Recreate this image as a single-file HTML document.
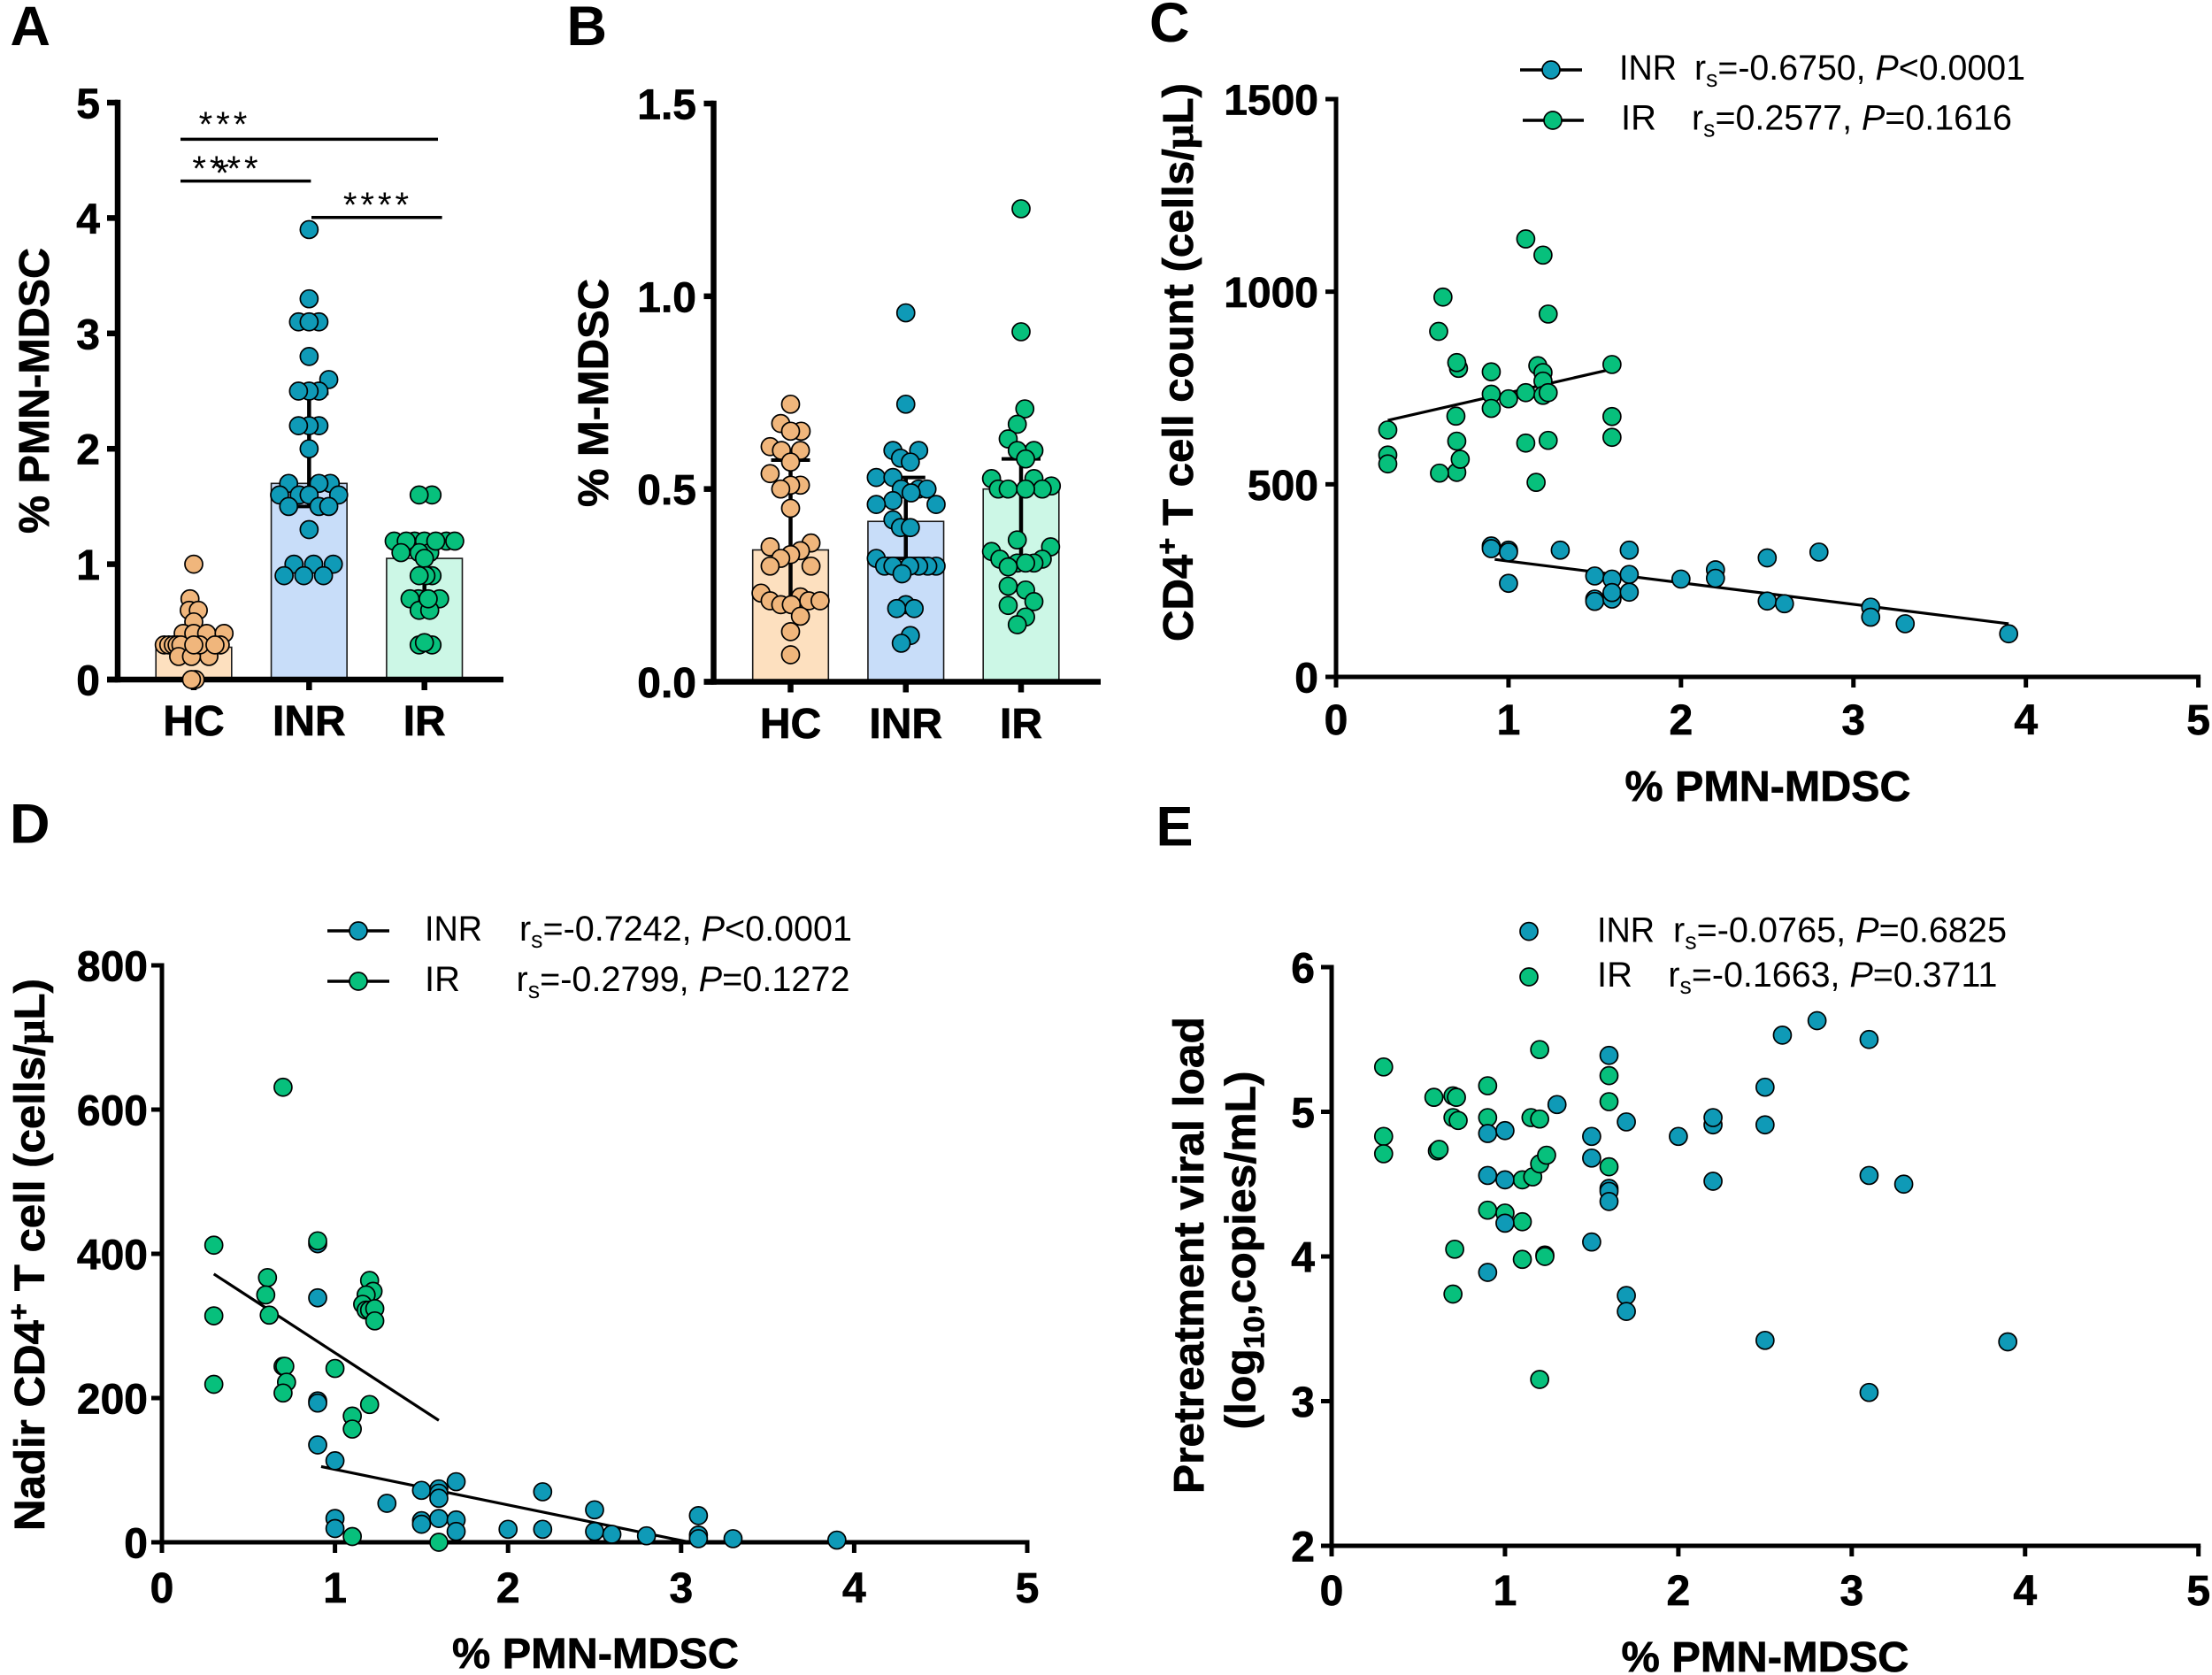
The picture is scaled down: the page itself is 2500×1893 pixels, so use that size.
<!DOCTYPE html>
<html lang="en">
<head>
<meta charset="utf-8">
<title>MDSC figure panels A-E</title>
<style>
html,body{margin:0;padding:0;background:#fff;}
svg{display:block;}
text{font-family:"Liberation Sans",sans-serif;fill:#000;}
.tick{font-weight:700;font-size:48px;stroke:#000;stroke-width:.7px;}
.title{font-weight:700;font-size:48px;stroke:#000;stroke-width:.7px;}
.panel{font-weight:700;font-size:63px;}
.leg{font-size:40px;}
.star{font-size:40px;}
</style>
</head>
<body>
<svg id="fig" xmlns="http://www.w3.org/2000/svg" width="2500" height="1893" viewBox="0 0 2500 1893">
<rect x="0" y="0" width="2500" height="1893" fill="#fff"/>

<g id="panel-a">
  <text class="panel" x="11.5" y="51">A</text>
  <text class="title" transform="translate(55,441.5) rotate(-90)" text-anchor="middle" textLength="323" lengthAdjust="spacingAndGlyphs">% PMN-MDSC</text>
</g>
<g id="panel-b">
  <text class="panel" x="640.5" y="51">B</text>
  <text class="title" transform="translate(687,444) rotate(-90)" text-anchor="middle" textLength="258" lengthAdjust="spacingAndGlyphs">% M-MDSC</text>
</g>
<g id="panel-c">
  <text class="panel" x="1299" y="47">C</text>
  <text class="title" transform="translate(1348,409.5) rotate(-90)" text-anchor="middle" textLength="631" lengthAdjust="spacingAndGlyphs">CD4<tspan font-size="32" dy="-18">+</tspan><tspan dy="18"> T cell count (cells/</tspan><tspan font-family="Liberation Serif">μ</tspan>L)</text>
  <text class="title" x="1998" y="905" text-anchor="middle" textLength="323" lengthAdjust="spacingAndGlyphs">% PMN-MDSC</text>
  <g>
    <text class="leg" x="1830" y="90" textLength="65" lengthAdjust="spacingAndGlyphs">INR</text>
    <text class="leg" x="1915" y="90" textLength="374" lengthAdjust="spacingAndGlyphs">r<tspan font-size="27" dy="8">s</tspan><tspan dy="-8">=-0.6750, </tspan><tspan font-style="italic">P</tspan>&lt;0.0001</text>
    <text class="leg" x="1832" y="146.7" textLength="40" lengthAdjust="spacingAndGlyphs">IR</text>
    <text class="leg" x="1912" y="146.7" textLength="362" lengthAdjust="spacingAndGlyphs">r<tspan font-size="27" dy="8">s</tspan><tspan dy="-8">=0.2577, </tspan><tspan font-style="italic">P</tspan>=0.1616</text>
  </g>
</g>
<g id="panel-d">
  <text class="panel" x="11" y="952.6">D</text>
  <text class="title" transform="translate(50,1418) rotate(-90)" text-anchor="middle" textLength="624" lengthAdjust="spacingAndGlyphs">Nadir CD4<tspan font-size="32" dy="-18">+</tspan><tspan dy="18"> T cell (cells/</tspan><tspan font-family="Liberation Serif">μ</tspan>L)</text>
  <text class="title" x="673" y="1885" text-anchor="middle" textLength="324" lengthAdjust="spacingAndGlyphs">% PMN-MDSC</text>
  <g>
    <text class="leg" x="480" y="1063" textLength="65" lengthAdjust="spacingAndGlyphs">INR</text>
    <text class="leg" x="587" y="1063" textLength="376" lengthAdjust="spacingAndGlyphs">r<tspan font-size="27" dy="8">s</tspan><tspan dy="-8">=-0.7242, </tspan><tspan font-style="italic">P</tspan>&lt;0.0001</text>
    <text class="leg" x="480" y="1120" textLength="40" lengthAdjust="spacingAndGlyphs">IR</text>
    <text class="leg" x="583.5" y="1120" textLength="377" lengthAdjust="spacingAndGlyphs">r<tspan font-size="27" dy="8">s</tspan><tspan dy="-8">=-0.2799, </tspan><tspan font-style="italic">P</tspan>=0.1272</text>
  </g>
</g>
<g id="panel-e">
  <text class="panel" x="1306.5" y="955.7">E</text>
  <text class="title" transform="translate(1360,1418.6) rotate(-90)" text-anchor="middle" textLength="539" lengthAdjust="spacingAndGlyphs">Pretreatment viral load</text>
  <text class="title" transform="translate(1418.5,1413) rotate(-90)" text-anchor="middle" textLength="405" lengthAdjust="spacingAndGlyphs">(log<tspan font-size="32" dy="10">10</tspan><tspan dy="-10">,copies/mL)</tspan></text>
  <text class="title" x="1995" y="1889" text-anchor="middle" textLength="325" lengthAdjust="spacingAndGlyphs">% PMN-MDSC</text>
  <g>
    <text class="leg" x="1805" y="1064.7" textLength="65" lengthAdjust="spacingAndGlyphs">INR</text>
    <text class="leg" x="1891" y="1064.7" textLength="377" lengthAdjust="spacingAndGlyphs">r<tspan font-size="27" dy="8">s</tspan><tspan dy="-8">=-0.0765, </tspan><tspan font-style="italic">P</tspan>=0.6825</text>
    <text class="leg" x="1805" y="1115" textLength="40" lengthAdjust="spacingAndGlyphs">IR</text>
    <text class="leg" x="1885.4" y="1115" textLength="372" lengthAdjust="spacingAndGlyphs">r<tspan font-size="27" dy="8">s</tspan><tspan dy="-8">=-0.1663, </tspan><tspan font-style="italic">P</tspan>=0.3711</text>
  </g>
</g>
</svg>

<script>
// ---------- Panel A data: % PMN-MDSC ----------
const groupLabels = ['HC', 'INR', 'IR'];
const aTicks = [0, 1, 2, 3, 4, 5];
const aBarMeans = [0.28, 1.7, 1.05];
const aErrLow = [0.18, 1.5, 0.7];
const aErrHigh = [0.4, 2.48, 1.2];
const aHcValues = [1.0,0.7,0.6,0.6,0.5,0.4,0.4,0.4,0.4,0.3,0.3,0.3,0.3,0.3,0.3,0.2,0.2,0.2,0.3,0.3,0.3,0,0];
const aHcJitter = [0,-0.05,-0.06,0.06,0,-0.14,0,0.17,0.4,-0.39,-0.33,-0.27,-0.22,-0.17,0.35,-0.2,0.2,-0.03,0.08,0.0,0.28,0.02,-0.03];
const aInrValues = [3.9,3.3,3.1,3.1,3.1,2.8,2.6,2.5,2.5,2.5,2.2,2.2,2.2,2.0,1.7,1.7,1.7,1.6,1.6,1.6,1.6,1.5,1.5,1.5,1.3,1.0,1.0,1.0,0.9,0.9,0.9];
const aInrJitter = [0,0,-0.14,0.13,0,0,0.26,0.13,0,-0.14,0.13,0,-0.14,0,0.28,-0.27,0.13,-0.39,-0.13,0,0.39,-0.27,0.13,0.26,0,-0.2,0.06,0.32,-0.33,-0.07,0.19];
const aIrValues = [1.6,1.6,1.2,1.2,1.2,1.2,1.1,1.1,1.2,1.2,1.2,1.1,1.05,0.9,0.9,0.9,0.7,0.7,0.7,0.6,0.6,0.7,0.3,0.3,0.32];
const aIrJitter = [0.1,-0.07,0.29,-0.4,-0.13,0,0.07,-0.07,-0.24,0.15,0.4,-0.31,0,0.1,0.02,-0.07,0.2,-0.08,-0.19,-0.07,0.07,0.05,0.1,-0.07,0];

// ---------- Panel B data: % M-MDSC ----------
const bTicks = [0, 0.5, 1, 1.5];
const bBarMeans = [0.342, 0.416, 0.5];
const bErrLow = [0.2, 0.32, 0.32];
const bErrHigh = [0.575, 0.53, 0.578];
const bHcValues = [0.72,0.67,0.65,0.65,0.61,0.6,0.6,0.57,0.54,0.51,0.51,0.5,0.45,0.36,0.35,0.34,0.33,0.32,0.3,0.3,0.23,0.22,0.21,0.21,0.21,0.2,0.2,0.17,0.13,0.07];
const bHcJitter = [0,-0.13,0.14,0,-0.27,-0.12,0.13,0,-0.27,0.13,0,-0.13,0,0.27,-0.27,0.13,0,-0.13,-0.27,0.27,-0.39,0.13,-0.27,0.24,0.39,-0.13,0.01,0.13,0,0];
const bInrValues = [0.957,0.72,0.6,0.6,0.58,0.57,0.53,0.53,0.5,0.5,0.5,0.49,0.47,0.46,0.46,0.42,0.4,0.4,0.32,0.3,0.3,0.3,0.3,0.3,0.3,0.28,0.2,0.19,0.19,0.12,0.1];
const bInrJitter = [0,0,-0.17,0.17,-0.07,0.06,-0.39,-0.17,0.17,0.28,-0.06,0.07,-0.17,-0.39,0.4,-0.17,-0.07,0.06,-0.39,-0.28,0.4,0.29,0.17,-0.17,0.05,-0.05,0,-0.12,0.11,0.06,-0.06];
const bIrValues = [1.227,0.908,0.708,0.668,0.63,0.6,0.6,0.578,0.527,0.527,0.508,0.5,0.5,0.5,0.5,0.368,0.35,0.338,0.318,0.318,0.308,0.308,0.308,0.298,0.248,0.238,0.208,0.198,0.168,0.148];
const bIrJitter = [0,0,0.05,-0.05,-0.17,0.17,-0.05,0.06,-0.39,0.17,0.4,-0.3,0.28,-0.17,0.06,-0.05,0.39,-0.39,-0.28,0.28,0.17,-0.05,0.06,-0.17,-0.17,0.06,0.17,-0.17,0.06,-0.05];

// ---------- Panel C data: CD4+ T cell count ----------
const xTicks = [0, 1, 2, 3, 4, 5];
const cTicks = [0, 500, 1000, 1500];
const cInrX = [0.9,0.9,1,1,1,1.3,1.5,1.5,1.5,1.6,1.6,1.6,1.7,1.7,1.7,2,2.2,2.2,2.5,2.5,2.6,2.8,3.1,3.1,3.3,3.9];
const cInrY = [340,333,329,324,243,329,262,202,196,254,202,219,329,266,220,254,278,256,309,197,190,324,181,155,138,112];
const cIrX = [0.3,0.3,0.3,0.595,0.62,0.695,0.7,0.7,0.6,0.72,0.71,0.7,0.9,0.9,0.9,1,1.1,1.1,1.1,1.2,1.23,1.17,1.2,1.2,1.2,1.23,1.23,1.16,1.6,1.6,1.6];
const cIrY = [641,576,553,897,986,677,612,531,529,565,801,816,792,734,697,722,738,607,1137,1095,942,808,790,768,731,738,614,505,811,676,622];
const cInrFitX = [0.92, 3.9];
const cInrFitY = [305, 138];
const cIrFitX = [0.3, 1.6];
const cIrFitY = [666, 799];

// ---------- Panel D data: Nadir CD4+ T cell ----------
const dTicks = [0, 200, 400, 600, 800];
const dInrX = [0.9,0.9,0.9,0.9,0.9,1,1,1,1.3,1.5,1.5,1.5,1.6,1.6,1.6,1.6,1.7,1.7,1.7,2,2.2,2.2,2.5,2.5,2.6,2.8,3.1,3.1,3.1,3.3,3.9];
const dInrY = [414,339,196,193,135,113,33,19,54,72,30,25,74,68,61,33,84,31,15,18,70,18,45,15,11,9,37,10,5,5,3];
const dIrX = [0.3,0.3,0.3,0.61,0.6,0.62,0.7,0.7,0.71,0.72,0.7,0.9,1,1.1,1.1,1.1,1.2,1.2,1.22,1.18,1.16,1.18,1.2,1.23,1.23,1.6];
const dIrY = [412,314,219,367,343,315,631,244,244,222,207,418,241,175,157,8,191,363,348,343,330,322,322,324,307,0];
const dInrFitX = [0.92, 3.05];
const dInrFitY = [105, 0];
const dIrFitX = [0.3, 1.6];
const dIrFitY = [372, 169];

// ---------- Panel E data: Pretreatment viral load ----------
const eTicks = [2, 3, 4, 5, 6];
const eInrX = [0.9,0.9,0.9,1,1,1,1.3,1.5,1.5,1.5,1.6,1.6,1.6,1.6,1.7,1.7,1.7,2,2.2,2.2,2.2,2.5,2.5,2.5,2.6,2.8,3.1,3.1,3.1,3.3,3.9];
const eInrY = [4.85,4.56,3.89,4.87,4.53,4.23,5.05,4.83,4.68,4.10,5.39,4.47,4.45,4.38,4.93,3.73,3.62,4.83,4.91,4.96,4.52,5.17,4.91,3.42,5.53,5.63,5.50,4.56,3.06,4.50,3.41];
const eIrX = [0.3,0.3,0.3,0.59,0.7,0.72,0.7,0.73,0.61,0.62,0.71,0.7,0.9,0.9,0.9,1,1.1,1.1,1.1,1.16,1.15,1.2,1.2,1.24,1.2,1.23,1.23,1.2,1.6,1.6,1.6];
const eIrY = [5.31,4.83,4.71,5.10,5.11,5.10,4.96,4.94,4.73,4.74,4.05,3.74,5.18,4.96,4.32,4.30,4.53,4.24,3.98,4.55,4.96,4.95,4.64,4.70,5.43,4.01,4.00,3.15,5.25,5.07,4.62];

const COLORS = {
  hcDot: '#f0b67c', hcBar: '#fde0bf',
  inrDot: '#0f9ab7', inrBar: '#c8ddf9',
  irDot: '#07c07c', irBar: '#ccf7e6'
};
const SVGNS = 'http://www.w3.org/2000/svg';
const DOT_R = 10;

function linear(d0, d1, r0, r1) {
  return function (v) { return r0 + (v - d0) / (d1 - d0) * (r1 - r0); };
}
function make(parent, tag, attrs, content) {
  const el = document.createElementNS(SVGNS, tag);
  for (const k in attrs) el.setAttribute(k, attrs[k]);
  if (content !== undefined) el.textContent = content;
  parent.appendChild(el);
  return el;
}
function drawLine(parent, x1, y1, x2, y2, w, name) {
  const el = make(parent, 'line', {x1: x1, y1: y1, x2: x2, y2: y2, stroke: '#000', 'stroke-width': w});
  
  
  return el;
}
function drawDot(parent, cx, cy, fill, name) {
  const el = make(parent, 'circle', {cx: cx, cy: cy, r: DOT_R, fill: fill, stroke: '#000', 'stroke-width': 1.7});
  
  
  return el;
}
function drawTickLabel(parent, x, y, anchor, label, name) {
  const el = make(parent, 'text', {x: x, y: y, 'text-anchor': anchor, 'class': 'tick'}, label);
  
  
  return el;
}

function drawYAxis(g, xAxis, yScale, ticks, format, tickStart, labelRight, w) {
  drawLine(g, xAxis, yScale(ticks[ticks.length - 1]) - w / 2, xAxis, yScale(ticks[0]) + w / 2, w, 'y-axis-line');
  ticks.forEach(function (t) {
    drawLine(g, tickStart, yScale(t), xAxis, yScale(t), w, 'y-axis-tick');
    drawTickLabel(g, labelRight, yScale(t) + 17.5, 'end', format(t), 'y-axis-tick-label');
  });
}

// ---------- Bar panels ----------
function drawBarPanel(g, cfg) {
  const y = cfg.yScale;
  const bottom = y(0);
  groupLabels.forEach(function (label, i) {
    const cx = cfg.xScale(i);
    const bar = make(g, 'rect', {
      x: cx - cfg.barW / 2, y: y(cfg.means[i]), width: cfg.barW,
      height: bottom - y(cfg.means[i]), fill: cfg.barFill[i], stroke: '#1a1a1a', 'stroke-width': 1.6
    });
    
    
    drawLine(g, cx, y(cfg.low[i]), cx, y(cfg.high[i]), 4.5, 'error-bar-' + label.toLowerCase());
    drawLine(g, cx - 22, y(cfg.high[i]), cx + 22, y(cfg.high[i]), 4, 'error-cap-upper-' + label.toLowerCase());
    drawLine(g, cx - 22, y(cfg.low[i]), cx + 22, y(cfg.low[i]), 4, 'error-cap-lower-' + label.toLowerCase());
  });
  // axes
  drawLine(g, cfg.xStart, bottom, cfg.xEnd, bottom, 6.5, 'x-axis-line');
  drawYAxis(g, cfg.xAxis, y, cfg.ticks, cfg.format, cfg.xStart, cfg.labelRight, 6.5);
  groupLabels.forEach(function (label, i) {
    const cx = cfg.xScale(i);
    drawLine(g, cx, bottom, cx, bottom + 12, 6.5, 'x-axis-tick');
    drawTickLabel(g, cx, cfg.labelBase, 'middle', label, 'x-axis-tick-label');
  });
  // swarm points, jitter in units of bar width
  cfg.points.forEach(function (s, i) {
    const cx = cfg.xScale(i);
    s.values.forEach(function (v, j) {
      drawDot(g, cx + s.jitter[j] * cfg.barW, y(v), s.color, 'point-' + groupLabels[i].toLowerCase());
    });
  });
}

drawBarPanel(document.getElementById('panel-a'), {
  xScale: linear(0, 2, 219, 479.7),
  yScale: linear(0, 5, 768, 116),
  barW: 85.6, means: aBarMeans, low: aErrLow, high: aErrHigh,
  barFill: [COLORS.hcBar, COLORS.inrBar, COLORS.irBar],
  xStart: 121, xEnd: 569, xAxis: 133, ticks: aTicks,
  format: function (t) { return String(t); }, labelRight: 113, labelBase: 831,
  points: [
    {values: aHcValues, jitter: aHcJitter, color: COLORS.hcDot},
    {values: aInrValues, jitter: aInrJitter, color: COLORS.inrDot},
    {values: aIrValues, jitter: aIrJitter, color: COLORS.irDot}
  ]
});
drawBarPanel(document.getElementById('panel-b'), {
  xScale: linear(0, 2, 893.5, 1154),
  yScale: linear(0, 1.5, 770.5, 117),
  barW: 85.6, means: bBarMeans, low: bErrLow, high: bErrHigh,
  barFill: [COLORS.hcBar, COLORS.inrBar, COLORS.irBar],
  xStart: 795.5, xEnd: 1244, xAxis: 806.5, ticks: bTicks,
  format: function (t) { return t.toFixed(1); }, labelRight: 787, labelBase: 834,
  points: [
    {values: bHcValues, jitter: bHcJitter, color: COLORS.hcDot},
    {values: bInrValues, jitter: bInrJitter, color: COLORS.inrDot},
    {values: bIrValues, jitter: bIrJitter, color: COLORS.irDot}
  ]
});

// Significance brackets in panel A
const brackets = [[204, 495, 157.4], [204, 351.4, 204.6], [352, 499.6, 245.7]];
const starTexts = [
  {t: '***', x: 254, y: 154}, {t: '****', x: 256.5, y: 204},
  {t: '*', x: 251, y: 209}, {t: '****', x: 427, y: 245}
];
(function () {
  const g = document.getElementById('panel-a');
  brackets.forEach(function (b) {
    drawLine(g, b[0], b[2], b[1], b[2], 3.5, 'significance-bracket');
  });
  starTexts.forEach(function (s) {
    const el = make(g, 'text', {x: s.x, y: s.y, 'text-anchor': 'middle', 'class': 'star', 'letter-spacing': s.t.length > 1 ? 4 : 0}, s.t);
    
    
  });
})();

// ---------- Scatter panels ----------
function drawScatterPanel(g, cfg) {
  const x = cfg.xScale, y = cfg.yScale;
  cfg.series.forEach(function (s) {
    if (s.fitX) {
      drawLine(g, x(s.fitX[0]), y(s.fitY[0]), x(s.fitX[1]), y(s.fitY[1]), 3.2, s.name + '-regression-line');
    }
  });
  const y0 = y(cfg.ticks[0]);
  // axes
  drawLine(g, x(0) - 2.5, y0, x(5) + 2.5, y0, 5, 'x-axis-line');
  drawYAxis(g, x(0), y, cfg.ticks, function (t) { return String(t); }, x(0) - 12, cfg.labelRight, 5);
  xTicks.forEach(function (t) {
    drawLine(g, x(t), y0, x(t), y0 + 12, 5, 'x-axis-tick');
    drawTickLabel(g, x(t), cfg.xLabelBase, 'middle', String(t), 'x-axis-tick-label');
  });
  cfg.series.forEach(function (s) {
    s.xs.forEach(function (v, j) {
      drawDot(g, x(v), y(s.ys[j]), s.color, 'point-' + s.name);
    });
  });
  cfg.legend.forEach(function (l) {
    if (l.x1 !== undefined) drawLine(g, l.x1, l.y, l.x2, l.y, 3.6, 'legend-line-' + l.name);
    drawDot(g, l.cx, l.y, l.color, 'legend-marker-' + l.name);
  });
}

drawScatterPanel(document.getElementById('panel-c'), {
  xScale: linear(0, 5, 1510, 2484.6),
  yScale: linear(0, 1500, 765, 112),
  ticks: cTicks, labelRight: 1490, xLabelBase: 830,
  series: [
    {name: 'inr', xs: cInrX, ys: cInrY, fitX: cInrFitX, fitY: cInrFitY, color: COLORS.inrDot},
    {name: 'ir', xs: cIrX, ys: cIrY, fitX: cIrFitX, fitY: cIrFitY, color: COLORS.irDot}
  ],
  legend: [
    {name: 'inr', x1: 1718, x2: 1788, cx: 1753, y: 79, color: COLORS.inrDot},
    {name: 'ir', x1: 1721, x2: 1790, cx: 1755, y: 136, color: COLORS.irDot}
  ]
});
drawScatterPanel(document.getElementById('panel-d'), {
  xScale: linear(0, 5, 183, 1161),
  yScale: linear(0, 800, 1743, 1091),
  ticks: dTicks, labelRight: 167, xLabelBase: 1811,
  series: [
    {name: 'inr', xs: dInrX, ys: dInrY, fitX: dInrFitX, fitY: dInrFitY, color: COLORS.inrDot},
    {name: 'ir', xs: dIrX, ys: dIrY, fitX: dIrFitX, fitY: dIrFitY, color: COLORS.irDot}
  ],
  legend: [
    {name: 'inr', x1: 370, x2: 440, cx: 405, y: 1052, color: COLORS.inrDot},
    {name: 'ir', x1: 370, x2: 440, cx: 405, y: 1109, color: COLORS.irDot}
  ]
});
drawScatterPanel(document.getElementById('panel-e'), {
  xScale: linear(0, 5, 1505, 2484.7),
  yScale: linear(2, 6, 1747, 1093),
  ticks: eTicks, labelRight: 1486, xLabelBase: 1814,
  series: [
    {name: 'ir', xs: eIrX, ys: eIrY, color: COLORS.irDot},
    {name: 'inr', xs: eInrX, ys: eInrY, color: COLORS.inrDot}
  ],
  legend: [
    {name: 'inr', cx: 1728, y: 1052.6, color: COLORS.inrDot},
    {name: 'ir', cx: 1728, y: 1104, color: COLORS.irDot}
  ]
});
</script>
</body>
</html>
